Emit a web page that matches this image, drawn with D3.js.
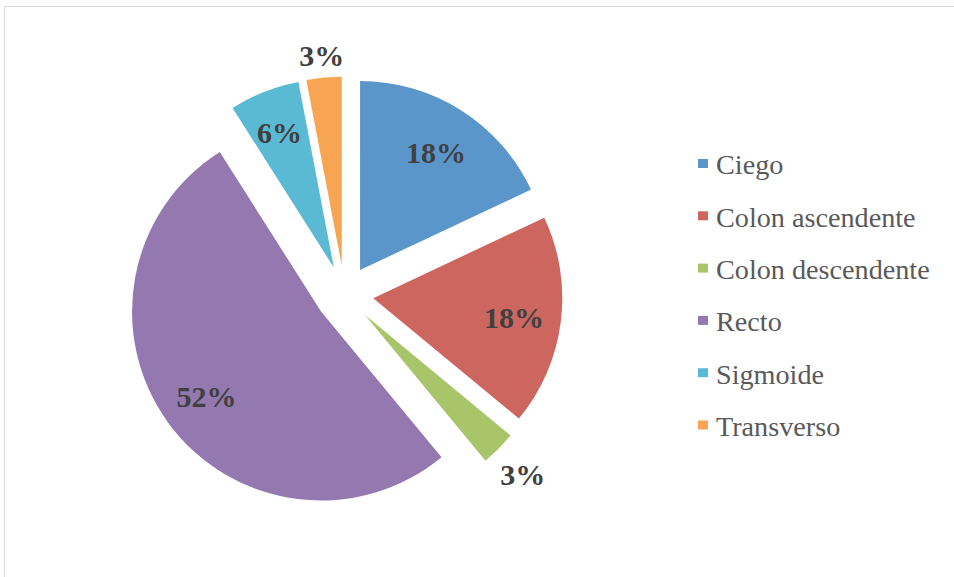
<!DOCTYPE html>
<html><head><meta charset="utf-8">
<script src="https://cdn.jsdelivr.net/npm/d3@7"></script>
<style>html,body{margin:0;padding:0;background:#fff;}svg{display:block;}</style>
</head><body>
<svg id="c" width="954" height="577"></svg>
<script>
const categories = ["Ciego","Colon ascendente","Colon descendente","Recto","Sigmoide","Transverso"];
const values = [18,18,3,52,6,3];
const labels = ["18%","18%","3%","52%","6%","3%"];
const colors = ["#5B96CB","#CE6660","#A9C56A","#9379B0","#5BBAD3","#F8A553"];

const svg = d3.select("#c");
svg.append("rect").attr("x",4.5).attr("y",6.5).attr("width",960).attr("height",580)
  .attr("fill","#fff").attr("stroke","#d9d9d9").attr("stroke-width",1);

const cx = 344.5, cy = 294.5, r = 189, explode = 29;
const data = categories.map((c,i)=>({cat:c, v:values[i], lab:labels[i], col:colors[i]}));
const pie = d3.pie().value(d=>d.v).sort(null);
const arcs = pie(data);
const arc = d3.arc().innerRadius(0).outerRadius(r);
const g = svg.append("g").attr("transform",`translate(${cx},${cy})`);

arcs.forEach(a=>{
  const mid = (a.startAngle+a.endAngle)/2;
  a.dx = Math.sin(mid)*explode; a.dy = -Math.cos(mid)*explode; a.mid = mid;
  const sx=Math.sin(mid), sy=-Math.cos(mid);
  let dist = a.data.v < 5 ? r + 10 + Math.abs(sx)*22 + Math.abs(sy)*12 : r*0.75;
  if (a.data.v>=5 && a.data.v<10) dist = r*0.78;
  a.lx = a.dx + sx*dist; a.ly = a.dy + sy*dist;
});
g.selectAll("path.s").data(arcs).join("path").attr("class","s")
  .attr("transform",d=>`translate(${d.dx},${d.dy})`)
  .attr("d",arc).attr("fill",d=>d.data.col);

g.selectAll("text.l").data(arcs).join("text").attr("class","l")
  .attr("x",d=>d.lx).attr("y",d=>d.ly+2)
  .attr("text-anchor","middle").attr("dominant-baseline","central")
  .attr("font-family","'Liberation Serif', serif").attr("font-weight","bold")
  .attr("font-size",30).attr("fill","#404040").text(d=>d.data.lab);

const leg = svg.append("g");
const ly = d3.scalePoint().domain(categories).range([163.5, 425]);
categories.forEach((c,i)=>{
  leg.append("rect").attr("x",698).attr("y",ly(c)-4.5).attr("width",10).attr("height",9).attr("fill",colors[i]);
  leg.append("text").attr("x",716).attr("y",ly(c)).attr("dominant-baseline","central")
    .attr("dy","0.05em")
    .attr("font-family","'Liberation Serif', serif").attr("font-size",28.2).attr("fill","#595959").text(c);
});
</script>
</body></html>
